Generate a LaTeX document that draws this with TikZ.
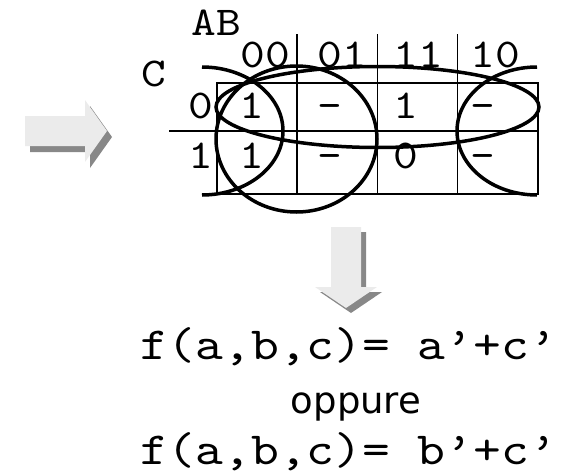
\documentclass[tikz,border=0pt]{standalone}
\usepackage{fontspec}
\setmonofont[FakeStretch=1.15]{lmmono10-regular.otf}
\newfontfamily\oppfont{DejaVu Sans}
\definecolor{arrowface}{RGB}{235,235,235}
\definecolor{arrowshade}{RGB}{136,136,136}

\begin{document}
\begin{tikzpicture}[x=1pt,y=-1pt,
    lab/.style={inner sep=0pt,anchor=base,font=\fontsize{41}{41}\selectfont\ttfamily},
    frm/.style={inner sep=0pt,anchor=base west,font=\fontsize{46}{46}\selectfont\ttfamily},
    loop/.style={line width=3.5pt},
    cell/.style={line width=1.4pt}]
    \useasboundingbox (0,0) rectangle (573,474);
    % block arrow to the map
    \fill[arrowshade,shift={(5,6)}] (25,116) -- (85,116) -- (85,100) -- (107,131)
      -- (85,162) -- (85,146) -- (25,146) -- cycle;
    \fill[arrowface] (25,116) -- (85,116) -- (85,100) -- (107,131)
      -- (85,162) -- (85,146) -- (25,146) -- cycle;
    % block arrow to the result
    \fill[arrowshade,shift={(5,5)}] (331,227) -- (361,227) -- (361,287) -- (377,287)
      -- (346,308) -- (315,287) -- (331,287) -- cycle;
    \fill[arrowface] (331,227) -- (361,227) -- (361,287) -- (377,287)
      -- (346,308) -- (315,287) -- (331,287) -- cycle;
    % map grid
    \draw[cell] (217,83) rectangle (538,194);
    \draw[cell] (169,131) -- (538,131);
    \foreach \x in {297,377.5,457.5}
      \draw[cell] (\x,34) -- (\x,194);
    \node[lab] (ab) at (216,35) {AB};
    \node[lab] (cc) at (154,86) {C};
    \foreach \h/\x [count=\i] in {00/265,01/342,11/418,10/495}
      \node[lab] (h\i) at (\x,67) {\h};
    \node[lab] (r0) at (201,118) {0};
    \node[lab] (r1) at (201,168) {1};
    \foreach \v/\x [count=\i] in {1/252,-/330,1/406,-/483}
      \node[lab] (a\i) at (\x,118) {\v};
    \foreach \v/\x [count=\i] in {1/252,-/330,0/406,-/483}
      \node[lab] (b\i) at (\x,168) {\v};
    % groups
    \draw[loop] (202,67) arc[start angle=-90,end angle=90,x radius=81,y radius=64];
    \draw[loop] (537,67) arc[start angle=-90,end angle=-270,x radius=80,y radius=64];
    \draw[loop] (296.5,139) ellipse[x radius=80.5,y radius=73];
    \draw[loop] (377.5,107) ellipse[x radius=161.5,y radius=40.5];
    % result
    \node[frm] (f1) at (140,359) {f(a,b,c)= a’+c’};
    \node[inner sep=0pt,anchor=base,font=\fontsize{37}{37}\selectfont\oppfont] (or) at (356,413) {oppure};
    \node[frm] (f2) at (140,464) {f(a,b,c)= b’+c’};
\end{tikzpicture}
\end{document}
